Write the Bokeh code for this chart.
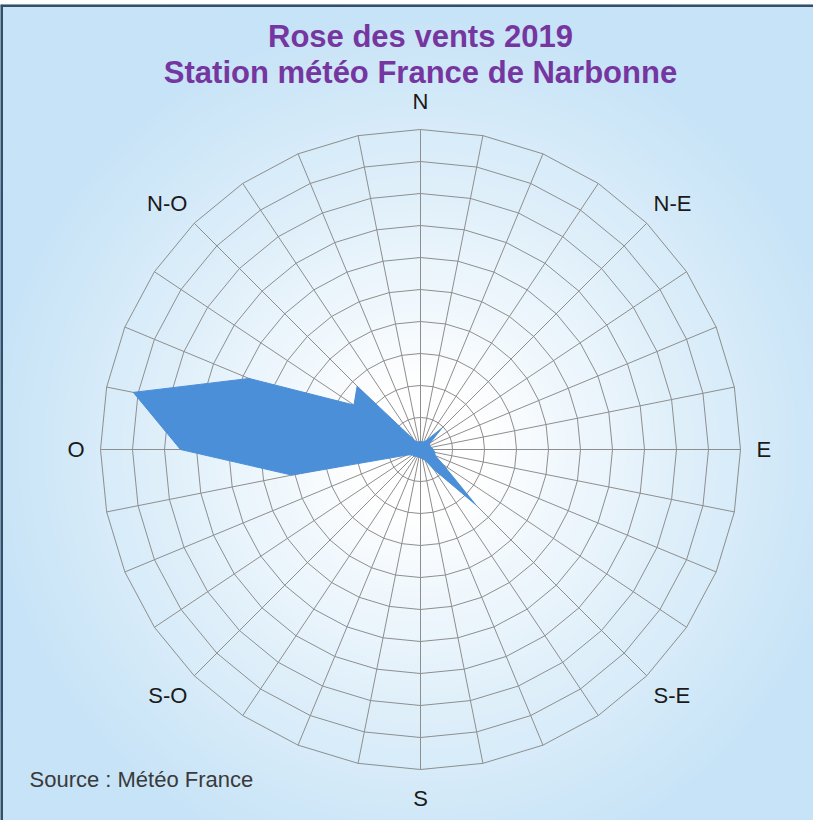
import numpy as np
from bokeh.plotting import figure
from bokeh.models import Range1d, Span, Label
from bokeh.embed import file_html
from bokeh.resources import INLINE

# ---- data (32 wind directions, clockwise from North) ----
dir_labels = ["N", "", "", "", "N-E", "", "", "",
              "E", "", "", "", "S-E", "", "", "",
              "S", "", "", "", "S-O", "", "", "",
              "O", "", "", "", "N-O", "", "", ""]
freq = [0.25, 0.25, 0.25, 0.35, 0.95, 0.35, 0.30, 0.35,
        0.40, 0.45, 0.50, 0.85, 2.45, 0.75, 0.35, 0.30,
        0.25, 0.25, 0.25, 0.25, 0.30, 0.30, 0.45, 4.10,
        7.50, 9.15, 5.80, 2.50, 2.80, 0.35, 0.25, 0.25]
ring_values = [1, 2, 3, 4, 5, 6, 7, 8, 9, 10]
title_lines = ["Rose des vents 2019", "Station météo France de Narbonne"]
source_text = "Source : Météo France"

n = len(dir_labels)
theta = np.deg2rad(np.arange(n) * 360.0 / n)
rmax = max(ring_values)

# ---- figure: 1 data unit = 32 px ----
W, H = 813, 820
fw, fh = 813, 816
cx_px, cy_px = 420, 445
u = 32.0
p = figure(width=W, height=H, output_backend="svg", toolbar_location=None,
           x_range=Range1d(-cx_px / u, (fw - cx_px) / u),
           y_range=Range1d(-(fh - cy_px) / u, cy_px / u),
           x_axis_location=None, y_axis_location=None,
           min_border_left=0, min_border_right=0, min_border_bottom=0, min_border_top=4,
           border_fill_color="white", background_fill_color="#c6e3f7",
           outline_line_color=None)
p.grid.visible = False

# ---- radial background gradient ----
inner = np.array([255, 255, 255])
outer = np.array([198, 227, 247])
radii = np.linspace(16.0, 0.3, 60)
cols = []
for r in radii:
    t = np.clip((r * u - 70) / 380.0, 0, 1) ** 0.9
    c = (inner + (outer - inner) * t).astype(int)
    cols.append("#%02x%02x%02x" % tuple(c))
p.circle(x=np.zeros(len(radii)), y=np.zeros(len(radii)), radius=radii,
         fill_color=cols, line_color=None)

# ---- polar grid (polygonal rings + spokes) ----
grid_col = "#8e8e8e"
tt = np.append(theta, theta[0])
for rv in ring_values:
    p.line(rv * np.sin(tt), rv * np.cos(tt), line_color=grid_col, line_width=1)
p.segment(x0=np.zeros(n), y0=np.zeros(n), x1=rmax * np.sin(theta), y1=rmax * np.cos(theta),
          line_color=grid_col, line_width=1)

# ---- data polygon ----
fr = np.array(freq)
p.patch(fr * np.sin(theta), fr * np.cos(theta), fill_color="#4a8fd8",
        line_color="#4a8fd8", line_width=1)

# ---- direction labels ----
anchors = {"N": ("center", "bottom", 10.5), "N-E": ("left", "bottom", 10.3),
           "E": ("left", "middle", 10.5), "S-E": ("left", "top", 10.3),
           "S": ("center", "top", 10.5), "S-O": ("right", "top", 10.3),
           "O": ("right", "middle", 10.5), "N-O": ("right", "bottom", 10.3)}
for i, lab in enumerate(dir_labels):
    if not lab:
        continue
    al, bl, rr = anchors[lab]
    p.add_layout(Label(x=rr * np.sin(theta[i]), y=rr * np.cos(theta[i]), text=lab,
                       text_align=al, text_baseline=bl, text_font="Liberation Sans",
                       text_font_size="22px", text_color="#1a1a1a"))

# ---- titles ----
title_col = "#7636a0"
p.add_layout(Label(x=0, y=(cy_px - 32) / u, text=title_lines[0], text_align="center",
                   text_baseline="middle", text_font="Liberation Sans", text_font_style="bold",
                   text_font_size="31px", text_color=title_col))
p.add_layout(Label(x=0, y=(cy_px - 68) / u, text=title_lines[1], text_align="center",
                   text_baseline="middle", text_font="Liberation Sans", text_font_style="bold",
                   text_font_size="31px", text_color=title_col))
p.add_layout(Label(x=(29 - cx_px) / u, y=(cy_px - 775) / u, text=source_text, text_align="left",
                   text_baseline="middle", text_font="Liberation Sans",
                   text_font_size="22px", text_color="#3a3a3a"))

# ---- frame border (left and top visible) ----
p.add_layout(Span(location=-cx_px / u + 1.0 / u, dimension="height", line_color="#33506a", line_width=3))
p.add_layout(Span(location=cy_px / u - 1.0 / u, dimension="width", line_color="#33506a", line_width=3))

open("out.html", "w").write(file_html(p, INLINE))
